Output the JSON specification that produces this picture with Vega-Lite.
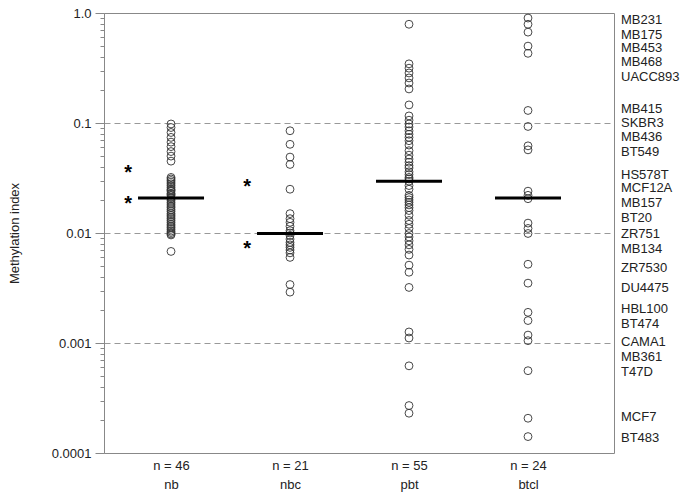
{
  "$schema": "https://vega.github.io/schema/vega-lite/v6.json",
  "width": 510,
  "height": 440,
  "autosize": {"type": "none"},
  "padding": {"left": 104, "top": 13, "right": 71, "bottom": 40},
  "config": {
    "font": "Liberation Sans",
    "view": {"stroke": "#888", "strokeWidth": 1}
  },
  "datasets": {
    "pts": [
      {"group": "nb", "value": 0.098}, {"group": "nb", "value": 0.091}, {"group": "nb", "value": 0.082}, {"group": "nb", "value": 0.074}, {"group": "nb", "value": 0.067},
      {"group": "nb", "value": 0.061}, {"group": "nb", "value": 0.055}, {"group": "nb", "value": 0.05}, {"group": "nb", "value": 0.045},
      {"group": "nb", "value": 0.032}, {"group": "nb", "value": 0.031}, {"group": "nb", "value": 0.03}, {"group": "nb", "value": 0.029}, {"group": "nb", "value": 0.028},
      {"group": "nb", "value": 0.027}, {"group": "nb", "value": 0.026}, {"group": "nb", "value": 0.025}, {"group": "nb", "value": 0.0245}, {"group": "nb", "value": 0.024},
      {"group": "nb", "value": 0.023}, {"group": "nb", "value": 0.0225}, {"group": "nb", "value": 0.022}, {"group": "nb", "value": 0.021},
      {"group": "nb", "value": 0.0205}, {"group": "nb", "value": 0.0198}, {"group": "nb", "value": 0.019}, {"group": "nb", "value": 0.0183}, {"group": "nb", "value": 0.0176},
      {"group": "nb", "value": 0.017}, {"group": "nb", "value": 0.0163}, {"group": "nb", "value": 0.0157}, {"group": "nb", "value": 0.015}, {"group": "nb", "value": 0.0145},
      {"group": "nb", "value": 0.014}, {"group": "nb", "value": 0.0135}, {"group": "nb", "value": 0.013}, {"group": "nb", "value": 0.0125}, {"group": "nb", "value": 0.012},
      {"group": "nb", "value": 0.0116}, {"group": "nb", "value": 0.0112}, {"group": "nb", "value": 0.0108}, {"group": "nb", "value": 0.0104}, {"group": "nb", "value": 0.0101},
      {"group": "nb", "value": 0.0098}, {"group": "nb", "value": 0.0096}, {"group": "nb", "value": 0.0068},
      {"group": "nbc", "value": 0.085}, {"group": "nbc", "value": 0.064}, {"group": "nbc", "value": 0.049}, {"group": "nbc", "value": 0.042}, {"group": "nbc", "value": 0.025},
      {"group": "nbc", "value": 0.015}, {"group": "nbc", "value": 0.0135}, {"group": "nbc", "value": 0.0125}, {"group": "nbc", "value": 0.0115}, {"group": "nbc", "value": 0.0105},
      {"group": "nbc", "value": 0.01}, {"group": "nbc", "value": 0.0095}, {"group": "nbc", "value": 0.0088}, {"group": "nbc", "value": 0.0082}, {"group": "nbc", "value": 0.0078},
      {"group": "nbc", "value": 0.0074}, {"group": "nbc", "value": 0.007}, {"group": "nbc", "value": 0.0066}, {"group": "nbc", "value": 0.006}, {"group": "nbc", "value": 0.0034},
      {"group": "nbc", "value": 0.0029},
      {"group": "pbt", "value": 0.79}, {"group": "pbt", "value": 0.345}, {"group": "pbt", "value": 0.315}, {"group": "pbt", "value": 0.285}, {"group": "pbt", "value": 0.257},
      {"group": "pbt", "value": 0.231}, {"group": "pbt", "value": 0.204}, {"group": "pbt", "value": 0.146}, {"group": "pbt", "value": 0.116}, {"group": "pbt", "value": 0.106},
      {"group": "pbt", "value": 0.098}, {"group": "pbt", "value": 0.092}, {"group": "pbt", "value": 0.085}, {"group": "pbt", "value": 0.079}, {"group": "pbt", "value": 0.074},
      {"group": "pbt", "value": 0.069}, {"group": "pbt", "value": 0.063}, {"group": "pbt", "value": 0.056}, {"group": "pbt", "value": 0.051}, {"group": "pbt", "value": 0.047},
      {"group": "pbt", "value": 0.044}, {"group": "pbt", "value": 0.041}, {"group": "pbt", "value": 0.039}, {"group": "pbt", "value": 0.036}, {"group": "pbt", "value": 0.034},
      {"group": "pbt", "value": 0.032}, {"group": "pbt", "value": 0.031}, {"group": "pbt", "value": 0.0296},
      {"group": "pbt", "value": 0.027}, {"group": "pbt", "value": 0.025}, {"group": "pbt", "value": 0.022}, {"group": "pbt", "value": 0.021}, {"group": "pbt", "value": 0.02},
      {"group": "pbt", "value": 0.019}, {"group": "pbt", "value": 0.018}, {"group": "pbt", "value": 0.017}, {"group": "pbt", "value": 0.016}, {"group": "pbt", "value": 0.0145},
      {"group": "pbt", "value": 0.013}, {"group": "pbt", "value": 0.012}, {"group": "pbt", "value": 0.011}, {"group": "pbt", "value": 0.0099}, {"group": "pbt", "value": 0.0092},
      {"group": "pbt", "value": 0.0085}, {"group": "pbt", "value": 0.0078}, {"group": "pbt", "value": 0.0071}, {"group": "pbt", "value": 0.0063}, {"group": "pbt", "value": 0.0051},
      {"group": "pbt", "value": 0.0044}, {"group": "pbt", "value": 0.0032}, {"group": "pbt", "value": 0.00126}, {"group": "pbt", "value": 0.00111}, {"group": "pbt", "value": 0.00062},
      {"group": "pbt", "value": 0.00027}, {"group": "pbt", "value": 0.00023},
      {"group": "btcl", "value": 0.9, "cell": "MB231"}, {"group": "btcl", "value": 0.79, "cell": "MB175"}, {"group": "btcl", "value": 0.67, "cell": "MB453"},
      {"group": "btcl", "value": 0.5, "cell": "MB468"}, {"group": "btcl", "value": 0.43, "cell": "UACC893"}, {"group": "btcl", "value": 0.13, "cell": "MB415"},
      {"group": "btcl", "value": 0.093, "cell": "SKBR3"}, {"group": "btcl", "value": 0.062, "cell": "MB436"}, {"group": "btcl", "value": 0.057, "cell": "BT549"},
      {"group": "btcl", "value": 0.024, "cell": "HS578T"}, {"group": "btcl", "value": 0.022, "cell": "MCF12A"}, {"group": "btcl", "value": 0.0205, "cell": "MB157"},
      {"group": "btcl", "value": 0.0123, "cell": "BT20"}, {"group": "btcl", "value": 0.011, "cell": "ZR751"}, {"group": "btcl", "value": 0.0099, "cell": "MB134"},
      {"group": "btcl", "value": 0.0052, "cell": "ZR7530"}, {"group": "btcl", "value": 0.0035, "cell": "DU4475"}, {"group": "btcl", "value": 0.0019, "cell": "HBL100"},
      {"group": "btcl", "value": 0.0016, "cell": "BT474"}, {"group": "btcl", "value": 0.00118, "cell": "CAMA1"}, {"group": "btcl", "value": 0.00105, "cell": "MB361"},
      {"group": "btcl", "value": 0.00056, "cell": "T47D"}, {"group": "btcl", "value": 0.000207, "cell": "MCF7"}, {"group": "btcl", "value": 0.000141, "cell": "BT483"}
    ],
    "medians": [
      {"group": "nb", "median": 0.0208},
      {"group": "nbc", "median": 0.0099},
      {"group": "pbt", "median": 0.0296},
      {"group": "btcl", "median": 0.0208}
    ],
    "stars": [
      {"group": "nb", "at": 0.039},
      {"group": "nb", "at": 0.0204},
      {"group": "nbc", "at": 0.029},
      {"group": "nbc", "at": 0.0079}
    ],
    "lines": [
      {"name": "MB231", "at": 0.864}, {"name": "MB175", "at": 0.631}, {"name": "MB453", "at": 0.481}, {"name": "MB468", "at": 0.359},
      {"name": "UACC893", "at": 0.262}, {"name": "MB415", "at": 0.134}, {"name": "SKBR3", "at": 0.1}, {"name": "MB436", "at": 0.0746},
      {"name": "BT549", "at": 0.0545}, {"name": "HS578T", "at": 0.0337}, {"name": "MCF12A", "at": 0.0257}, {"name": "MB157", "at": 0.01875},
      {"name": "BT20", "at": 0.01368}, {"name": "ZR751", "at": 0.0098}, {"name": "MB134", "at": 0.00716}, {"name": "ZR7530", "at": 0.00481},
      {"name": "DU4475", "at": 0.00316}, {"name": "HBL100", "at": 0.00204}, {"name": "BT474", "at": 0.00149}, {"name": "CAMA1", "at": 0.00102},
      {"name": "MB361", "at": 0.000746}, {"name": "T47D", "at": 0.000545}, {"name": "MCF7", "at": 0.000212}, {"name": "BT483", "at": 0.000137}
    ]
  },
  "layer": [
    {
      "data": {"name": "pts"},
      "mark": {"type": "point", "shape": "circle", "filled": false, "size": 62, "stroke": "#333", "strokeWidth": 0.9, "opacity": 1},
      "encoding": {
        "x": {
          "field": "group", "type": "nominal", "sort": ["nb", "nbc", "pbt", "btcl"],
          "scale": {"type": "point", "domain": ["nb", "nbc", "pbt", "btcl"], "padding": 0.643, "align": 0.438},
          "axis": {
            "title": null, "domain": false, "ticks": false, "labelOverlap": false,
            "labelFontSize": 13, "labelColor": "#222", "labelPadding": 6, "labelLineHeight": 19, "labelAngle": 0,
            "labelExpr": "datum.value == 'nb' ? ['n = 46', 'nb'] : datum.value == 'nbc' ? ['n = 21', 'nbc'] : datum.value == 'pbt' ? ['n = 55', 'pbt'] : ['n = 24', 'btcl']"
          }
        },
        "y": {
          "field": "value", "type": "quantitative",
          "scale": {"type": "log", "domain": [0.0001, 1], "nice": false},
          "axis": {
            "title": "Methylation index", "titleFontSize": 13, "titleFontWeight": "normal", "titleColor": "#222", "titlePadding": 30,
            "values": [1, 0.9, 0.8, 0.7, 0.6, 0.5, 0.4, 0.3, 0.2, 0.1, 0.09, 0.08, 0.07, 0.06, 0.05, 0.04, 0.03, 0.02, 0.01, 0.009, 0.008, 0.007, 0.006, 0.005, 0.004, 0.003, 0.002, 0.001, 0.0009, 0.0008, 0.0007, 0.0006, 0.0005, 0.0004, 0.0003, 0.0002, 0.0001],
            "labelExpr": "datum.value == 1 ? '1.0' : datum.value == 0.1 ? '0.1' : datum.value == 0.01 ? '0.01' : datum.value == 0.001 ? '0.001' : datum.value == 0.0001 ? '0.0001' : ''",
            "labelFontSize": 13, "labelColor": "#222", "labelPadding": 4, "labelOverlap": false, "labelFlush": false,
            "domainColor": "#888", "tickColor": "#888",
            "tickSize": {"condition": {"test": "datum.value == 1 || datum.value == 0.1 || datum.value == 0.01 || datum.value == 0.001 || datum.value == 0.0001", "value": 9}, "value": 4},
            "grid": true, "gridColor": "#999", "gridDash": [6, 4], "gridWidth": 1,
            "gridOpacity": {"condition": {"test": "datum.value == 0.1 || datum.value == 0.01 || datum.value == 0.001", "value": 1}, "value": 0}
          }
        }
      }
    },
    {
      "data": {"name": "medians"},
      "mark": {"type": "tick", "orient": "horizontal", "size": 66, "thickness": 3, "color": "#000", "opacity": 1},
      "encoding": {
        "x": {"field": "group", "type": "nominal"},
        "y": {"field": "median", "type": "quantitative"}
      }
    },
    {
      "data": {"name": "stars"},
      "mark": {"type": "text", "text": "*", "fontSize": 20, "fontWeight": "bold", "dx": -43, "dy": 11, "baseline": "alphabetic", "align": "center", "color": "#000"},
      "encoding": {
        "x": {"field": "group", "type": "nominal"},
        "y": {"field": "at", "type": "quantitative"}
      }
    },
    {
      "data": {"name": "lines"},
      "mark": {"type": "text", "fontSize": 13, "align": "left", "baseline": "middle", "dx": 93, "color": "#222"},
      "encoding": {
        "x": {"datum": "btcl", "type": "nominal"},
        "y": {"field": "at", "type": "quantitative"},
        "text": {"field": "name"}
      }
    }
  ]
}
